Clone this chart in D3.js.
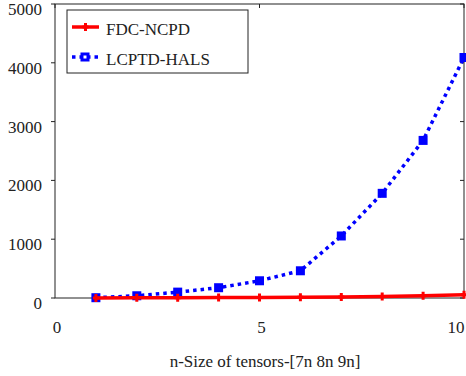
<!DOCTYPE html>
<html>
<head>
<meta charset="utf-8">
<script src="https://cdn.jsdelivr.net/npm/d3@7"></script>
<style>
  body { margin: 0; background: #fff; }
  svg text { font-family: "Times New Roman", "Liberation Serif", Tinos, "DejaVu Serif", serif; }
</style>
</head>
<body>
<div id="chart"></div>
<script>
// data
var sizes = [1, 2, 3, 4, 5, 6, 7, 8, 9, 10];
var fdcNcpd = [2, 4, 6, 8, 10, 14, 19, 27, 38, 55];
var lcptdHals = [5, 38, 100, 175, 293, 463, 1055, 1780, 2680, 4090];
var xTicks = [0, 5, 10];
var yTicks = [0, 1000, 2000, 3000, 4000, 5000];

var W = 466, H = 376;
var m = {top: 4, right: 2, bottom: 78, left: 55};

var svg = d3.select("#chart").append("svg")
    .attr("width", W)
    .attr("height", H);

var x = d3.scaleLinear().domain([0, 10]).range([m.left, W - m.right]);
var y = d3.scaleLinear().domain([0, 5000]).range([H - m.bottom, m.top]);

// frame
svg.append("rect")
    .attr("x", x(0)).attr("y", y(5000))
    .attr("width", x(10) - x(0)).attr("height", y(0) - y(5000))
    .attr("fill", "none").attr("stroke", "#222").attr("stroke-width", 1);

// y ticks left (outside) and right (inside)
yTicks.forEach(function (t) {
    svg.append("line").attr("x1", x(0) - 4).attr("x2", x(0))
        .attr("y1", y(t)).attr("y2", y(t)).attr("stroke", "#222");
    svg.append("line").attr("x1", x(10) - 4).attr("x2", x(10))
        .attr("y1", y(t)).attr("y2", y(t)).attr("stroke", "#222");
    svg.append("text")
        .attr("x", 42).attr("y", y(t) + 11)
        .attr("text-anchor", "end")
        .attr("font-size", 17)
        .attr("fill", "#222")
        .text(t);
});

// x ticks on top border; labels kept inside the window
xTicks.forEach(function (t) {
    svg.append("line").attr("x1", x(t)).attr("x2", x(t))
        .attr("y1", y(5000)).attr("y2", y(5000) + 4).attr("stroke", "#222");
    svg.append("text")
        .attr("x", Math.min(x(t) + 2, W - 10)).attr("y", 333)
        .attr("text-anchor", "middle")
        .attr("font-size", 17)
        .attr("fill", "#222")
        .text(t);
});

svg.append("text")
    .attr("x", 265).attr("y", 367)
    .attr("text-anchor", "middle")
    .attr("font-size", 17)
    .attr("fill", "#222")
    .text("n-Size of tensors-[7n 8n 9n]");

var line = d3.line()
    .x(function (d, i) { return x(sizes[i]); })
    .y(function (d) { return y(d); });

// blue dotted series
svg.append("path")
    .datum(lcptdHals)
    .attr("d", line)
    .attr("fill", "none")
    .attr("stroke", "#0000ff")
    .attr("stroke-width", 3.5)
    .attr("stroke-dasharray", "3.5,4");

svg.selectAll(".bsq")
    .data(lcptdHals)
    .enter().append("rect")
    .attr("class", "bsq")
    .attr("x", function (d, i) { return x(sizes[i]) - 4.5; })
    .attr("y", function (d) { return y(d) - 4.5; })
    .attr("width", 9).attr("height", 9)
    .attr("fill", "#0000ff");

// red solid series
svg.append("path")
    .datum(fdcNcpd)
    .attr("d", line)
    .attr("fill", "none")
    .attr("stroke", "#ff0000")
    .attr("stroke-width", 3.5);

svg.selectAll(".rp")
    .data(fdcNcpd)
    .enter().append("path")
    .attr("class", "rp")
    .attr("d", function (d, i) {
        var cx = x(sizes[i]), cy = y(d);
        return "M" + (cx - 3) + "," + cy + "H" + (cx + 3) + "M" + cx + "," + (cy - 4) + "V" + (cy + 4);
    })
    .attr("stroke", "#ff0000")
    .attr("stroke-width", 3);

// legend
var lg = svg.append("g");
lg.append("rect")
    .attr("x", 67).attr("y", 10).attr("width", 181).attr("height", 63)
    .attr("fill", "#fff").attr("stroke", "#222").attr("stroke-width", 1);

lg.append("line").attr("x1", 72).attr("x2", 99).attr("y1", 27).attr("y2", 27)
    .attr("stroke", "#ff0000").attr("stroke-width", 3.5);
lg.append("path").attr("d", "M82.5,27H88.5M85.5,23V31")
    .attr("stroke", "#ff0000").attr("stroke-width", 3);
lg.append("text").attr("x", 106).attr("y", 35).attr("font-size", 17)
    .attr("fill", "#222").text("FDC-NCPD");

lg.append("line").attr("x1", 72).attr("x2", 99).attr("y1", 57).attr("y2", 57)
    .attr("stroke", "#0000ff").attr("stroke-width", 3.5).attr("stroke-dasharray", "3.5,4");
lg.append("rect").attr("x", 80.5).attr("y", 52.5).attr("width", 9).attr("height", 9)
    .attr("fill", "#0000ff");
lg.append("rect").attr("x", 83.5).attr("y", 55.5).attr("width", 3).attr("height", 3)
    .attr("fill", "#fff");
lg.append("text").attr("x", 106).attr("y", 65).attr("font-size", 17)
    .attr("fill", "#222").text("LCPTD-HALS");
</script>
</body>
</html>
